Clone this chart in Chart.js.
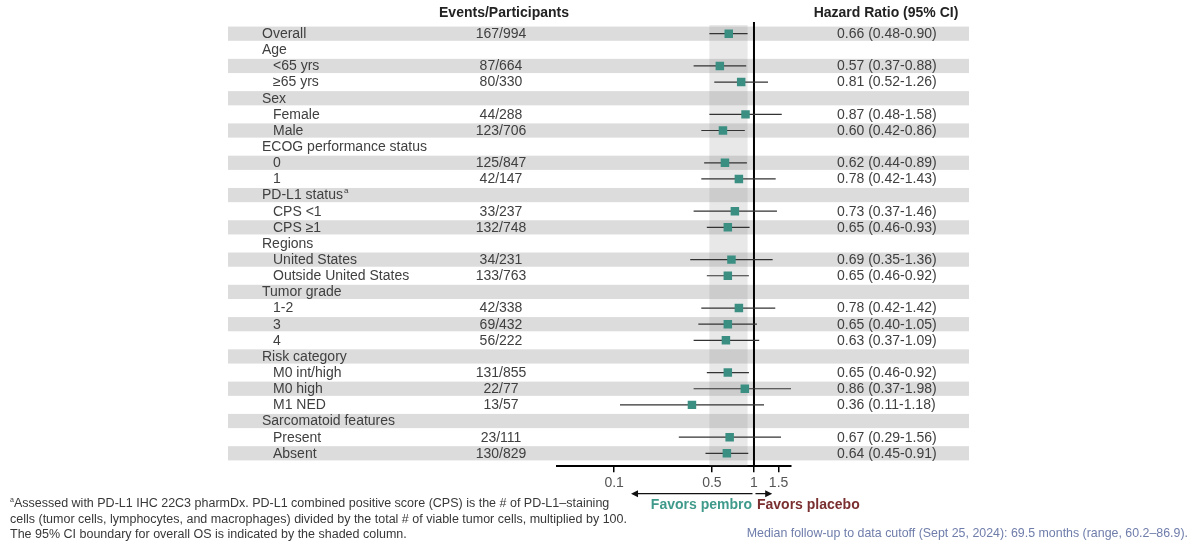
<!DOCTYPE html>
<html>
<head>
<meta charset="utf-8">
<title>Forest plot – overall survival by subgroup</title>
<script src="https://cdn.jsdelivr.net/npm/chart.js@4"></script>
<style>
  html, body { margin: 0; padding: 0; background: #fff; }
  #wrap { position: relative; width: 1200px; height: 546px; font-family: "Liberation Sans", Arial, sans-serif; }
  #wrap canvas { position: absolute; left: 0; top: 0; }
  .foot { position: absolute; left: 10px; top: 496px; font-size: 12.5px; line-height: 15.5px; color: #383838; }
  .foot sup { font-size: 7px; vertical-align: 5px; line-height: 0; }
  .followup { position: absolute; right: 12px; top: 526px; font-size: 12.4px; color: #6f7dab; }
</style>
</head>
<body>
<div id="wrap">
  <canvas id="forest" width="1200" height="546"></canvas>
  <div class="foot"><sup>a</sup>Assessed with PD-L1 IHC 22C3 pharmDx. PD-L1 combined positive score (CPS) is the # of PD-L1–staining<br>cells (tumor cells, lymphocytes, and macrophages) divided by the total # of viable tumor cells, multiplied by 100.<br>The 95% CI boundary for overall OS is indicated by the shaded column.</div>
  <div class="followup">Median follow-up to data cutoff (Sept 25, 2024): 69.5 months (range, 60.2–86.9).</div>
</div>
<script>
// Subgroup rows, top to bottom
const rowLabels = ['Overall', 'Age', '<65 yrs', '≥65 yrs', 'Sex', 'Female', 'Male',
  'ECOG performance status', '0', '1', 'PD-L1 status', 'CPS <1', 'CPS ≥1',
  'Regions', 'United States', 'Outside United States', 'Tumor grade', '1-2', '3', '4',
  'Risk category', 'M0 int/high', 'M0 high', 'M1 NED', 'Sarcomatoid features', 'Present', 'Absent'];
const rowIndent = [0, 0, 1, 1, 0, 1, 1, 0, 1, 1, 0, 1, 1, 0, 1, 1, 0, 1, 1, 1, 0, 1, 1, 1, 0, 1, 1];
const rowNote = [null, null, null, null, null, null, null, null, null, null, 'a', null, null,
  null, null, null, null, null, null, null, null, null, null, null, null, null, null];
const events = ['167/994', '', '87/664', '80/330', '', '44/288', '123/706', '', '125/847', '42/147',
  '', '33/237', '132/748', '', '34/231', '133/763', '', '42/338', '69/432', '56/222',
  '', '131/855', '22/77', '13/57', '', '23/111', '130/829'];
const hazard = [0.66, null, 0.57, 0.81, null, 0.87, 0.60, null, 0.62, 0.78, null, 0.73, 0.65,
  null, 0.69, 0.65, null, 0.78, 0.65, 0.63, null, 0.65, 0.86, 0.36, null, 0.67, 0.64];
const ciLow = [0.48, null, 0.37, 0.52, null, 0.48, 0.42, null, 0.44, 0.42, null, 0.37, 0.46,
  null, 0.35, 0.46, null, 0.42, 0.40, 0.37, null, 0.46, 0.37, 0.11, null, 0.29, 0.45];
const ciHigh = [0.90, null, 0.88, 1.26, null, 1.58, 0.86, null, 0.89, 1.43, null, 1.46, 0.93,
  null, 1.36, 0.92, null, 1.42, 1.05, 1.09, null, 0.92, 1.98, 1.18, null, 1.56, 0.91];
const xTicks = [0.1, 0.5, 1, 1.5];

const teal = '#3a8f82';
const textGray = '#404040';
const font = (size, bold) => (bold ? 'bold ' : '') + size + 'px "Liberation Sans", Arial, sans-serif';

// build datasets from the arrays
const markerPoints = [];
const ciPoints = [];
hazard.forEach(function(v, i) {
  if (v === null) return;
  markerPoints.push({ x: v, y: i });
  ciPoints.push({ x: ciLow[i], y: i }, { x: ciHigh[i], y: i }, { x: ciHigh[i], y: null });
});

// shaded rows, overall CI column and the line of no effect
const backdrop = {
  id: 'backdrop',
  beforeDatasetsDraw(chart) {
    const { ctx, chartArea, scales: { x, y } } = chart;
    const rowH = Math.abs(y.getPixelForValue(1) - y.getPixelForValue(0));
    ctx.save();
    ctx.fillStyle = '#dcdcdc';
    rowLabels.forEach(function(_, i) {
      if (i % 2) return;
      const py = y.getPixelForValue(i);
      ctx.fillRect(228, py - rowH * 0.44, 969 - 228, rowH * 0.88);
    });
    const left = x.getPixelForValue(ciLow[0]);
    const right = x.getPixelForValue(ciHigh[0]);
    ctx.fillStyle = 'rgba(140,140,140,0.2)';
    ctx.fillRect(left, chartArea.top + 1, right - left, chartArea.bottom - chartArea.top - 1);
    const one = x.getPixelForValue(1);
    ctx.strokeStyle = '#000';
    ctx.lineWidth = 2;
    ctx.beginPath();
    ctx.moveTo(one, chartArea.top - 2);
    ctx.lineTo(one, chartArea.bottom);
    ctx.stroke();
    ctx.restore();
  },
  afterDraw(chart) {
    const { ctx, chartArea, scales: { x, y } } = chart;
    ctx.save();
    ctx.textBaseline = 'middle';

    // column headers
    ctx.fillStyle = '#222';
    ctx.font = font(14, true);
    ctx.textAlign = 'center';
    ctx.fillText('Events/Participants', 504, 13);
    ctx.fillText('Hazard Ratio (95% CI)', 886, 13);

    ctx.font = font(14);
    ctx.fillStyle = textGray;
    rowLabels.forEach(function(label, i) {
      const py = y.getPixelForValue(i) + 0.5;
      const lx = rowIndent[i] ? 273 : 262;
      ctx.textAlign = 'left';
      ctx.fillText(label, lx, py);
      if (rowNote[i]) {
        const w = ctx.measureText(label).width;
        ctx.font = font(8);
        ctx.fillText(rowNote[i], lx + w + 1, py - 5);
        ctx.font = font(14);
      }
      if (events[i]) {
        ctx.textAlign = 'center';
        ctx.fillText(events[i], 501, py);
      }
      if (hazard[i] !== null) {
        ctx.textAlign = 'left';
        ctx.fillText(hazard[i].toFixed(2) + ' (' + ciLow[i].toFixed(2) + '-' + ciHigh[i].toFixed(2) + ')', 837, py);
      }
    });

    // favors arrows under the axis
    const one = x.getPixelForValue(1);
    const ay = chartArea.bottom + 27.5;
    const leftTip = x.getPixelForValue(0.132);
    const rightTip = x.getPixelForValue(1.35);
    ctx.strokeStyle = '#111';
    ctx.fillStyle = '#111';
    ctx.lineWidth = 1.3;
    ctx.beginPath();
    ctx.moveTo(one - 1.5, ay);
    ctx.lineTo(leftTip + 5, ay);
    ctx.moveTo(one + 1.5, ay);
    ctx.lineTo(rightTip - 5, ay);
    ctx.stroke();
    ctx.beginPath();
    ctx.moveTo(leftTip, ay);
    ctx.lineTo(leftTip + 7, ay - 3.5);
    ctx.lineTo(leftTip + 7, ay + 3.5);
    ctx.closePath();
    ctx.moveTo(rightTip, ay);
    ctx.lineTo(rightTip - 7, ay - 3.5);
    ctx.lineTo(rightTip - 7, ay + 3.5);
    ctx.closePath();
    ctx.fill();

    ctx.font = font(14, true);
    ctx.textAlign = 'right';
    ctx.fillStyle = '#3f9a8b';
    ctx.fillText('Favors pembro', one - 2, ay + 11);
    ctx.textAlign = 'left';
    ctx.fillStyle = '#7a2f30';
    ctx.fillText('Favors placebo', one + 3, ay + 11);
    ctx.restore();
  }
};

new Chart(document.getElementById('forest'), {
  type: 'scatter',
  data: {
    datasets: [
      {
        type: 'line',
        data: ciPoints,
        borderColor: '#333',
        borderWidth: 1.2,
        pointRadius: 0,
        spanGaps: false,
        order: 2
      },
      {
        type: 'scatter',
        data: markerPoints,
        pointStyle: 'rect',
        pointRadius: 6,
        backgroundColor: teal,
        borderWidth: 0,
        order: 1
      }
    ]
  },
  options: {
    responsive: false,
    animation: false,
    layout: { padding: { left: 557, right: 409, top: 24, bottom: 51 } },
    plugins: { legend: { display: false }, tooltip: { enabled: false } },
    scales: {
      x: {
        type: 'logarithmic',
        min: 0.039,
        max: 1.84,
        afterBuildTicks: function(axis) {
          axis.ticks = xTicks.map(function(v) { return { value: v }; });
        },
        ticks: {
          autoSkip: false,
          maxRotation: 0,
          color: '#555',
          font: { size: 14, family: '"Liberation Sans", Arial, sans-serif' },
          padding: 3,
          callback: function(v) { return String(v); }
        },
        grid: { drawOnChartArea: false, drawTicks: true, tickLength: 6, color: '#000', lineWidth: 1.5 },
        border: { display: true, color: '#000', width: 2 }
      },
      y: {
        type: 'linear',
        display: false,
        reverse: true,
        min: -0.6,
        max: 26.8
      }
    }
  },
  plugins: [backdrop]
});
</script>
</body>
</html>
